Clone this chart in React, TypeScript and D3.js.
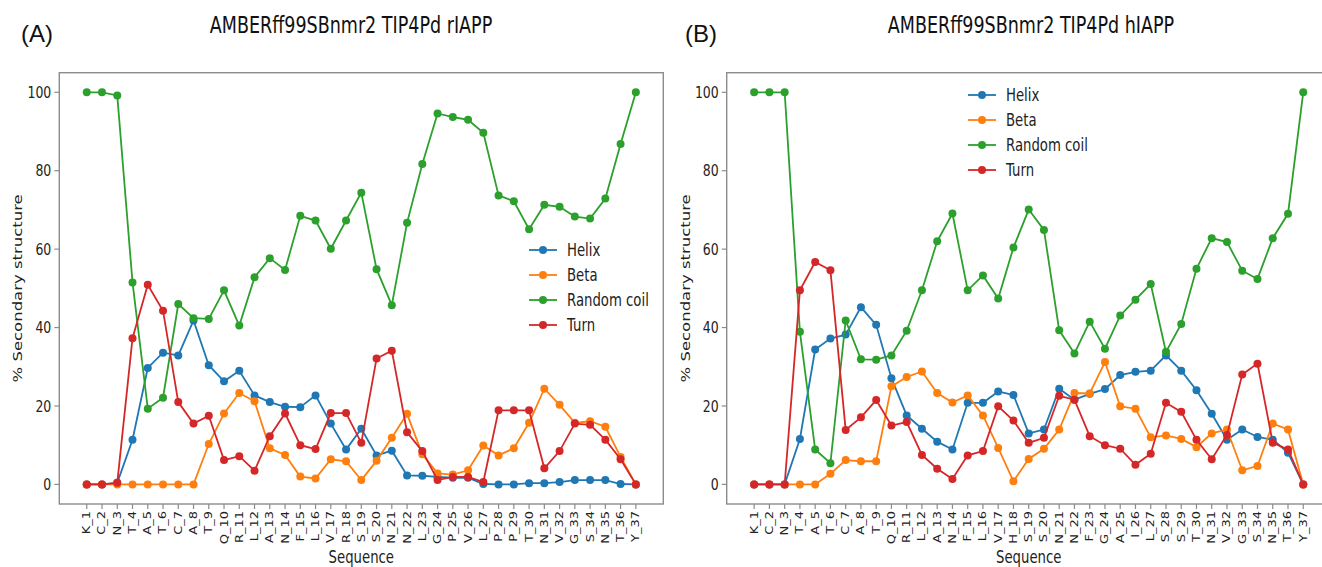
import React, { useEffect, useRef } from 'react';
import * as d3 from 'd3';

const seqA = ['K_1', 'C_2', 'N_3', 'T_4', 'A_5', 'T_6', 'C_7', 'A_8', 'T_9', 'Q_10', 'R_11', 'L_12', 'A_13', 'N_14', 'F_15', 'L_16', 'V_17', 'R_18', 'S_19', 'S_20', 'N_21', 'N_22', 'L_23', 'G_24', 'P_25', 'V_26', 'L_27', 'P_28', 'P_29', 'T_30', 'N_31', 'V_32', 'G_33', 'S_34', 'N_35', 'T_36', 'Y_37'];
const seqB = ['K_1', 'C_2', 'N_3', 'T_4', 'A_5', 'T_6', 'C_7', 'A_8', 'T_9', 'Q_10', 'R_11', 'L_12', 'A_13', 'N_14', 'F_15', 'L_16', 'V_17', 'H_18', 'S_19', 'S_20', 'N_21', 'N_22', 'F_23', 'G_24', 'A_25', 'I_26', 'L_27', 'S_28', 'S_29', 'T_30', 'N_31', 'V_32', 'G_33', 'S_34', 'N_35', 'T_36', 'Y_37'];

// rIAPP
const helixA = [0, 0, 0.4, 11.4, 29.7, 33.6, 32.9, 41.8, 30.4, 26.3, 29.0, 22.7, 21.0, 19.8, 19.7, 22.7, 15.5, 8.9, 14.2, 7.4, 8.6, 2.3, 2.2, 1.9, 1.7, 1.7, 0.1, 0, 0, 0.3, 0.3, 0.6, 1.1, 1.1, 1.1, 0.1, 0];
const betaA = [0, 0, 0, 0, 0, 0, 0, 0, 10.3, 18.1, 23.3, 21.2, 9.2, 7.5, 2.0, 1.5, 6.4, 5.9, 1.1, 6.0, 11.9, 18.0, 7.7, 2.8, 2.5, 3.6, 9.9, 7.4, 9.2, 15.7, 24.4, 20.3, 15.7, 16.1, 14.7, 7.0, 0];
const coilA = [100, 100, 99.2, 51.5, 19.3, 22.1, 46.0, 42.4, 42.2, 49.5, 40.5, 52.8, 57.7, 54.7, 68.5, 67.3, 60.1, 67.3, 74.4, 54.9, 45.7, 66.7, 81.7, 94.6, 93.7, 93.0, 89.7, 73.7, 72.2, 65.1, 71.3, 70.8, 68.3, 67.8, 72.9, 86.8, 100];
const turnA = [0, 0, 0.4, 37.3, 50.9, 44.3, 21.0, 15.5, 17.5, 6.2, 7.2, 3.5, 12.3, 18.1, 10.0, 9.0, 18.2, 18.2, 10.6, 32.1, 34.1, 13.3, 8.5, 1.1, 1.9, 1.9, 0.6, 18.9, 18.9, 18.9, 4.1, 8.5, 15.5, 15.2, 11.4, 6.4, 0];

// hIAPP
const helixB = [0, 0, 0, 11.6, 34.4, 37.2, 38.2, 45.2, 40.7, 27.1, 17.6, 14.2, 10.9, 8.9, 20.8, 20.8, 23.7, 22.8, 13.0, 14.0, 24.4, 21.6, 23.1, 24.3, 27.9, 28.7, 29.0, 32.9, 29.0, 24.0, 18.0, 11.4, 14.0, 12.1, 11.4, 8.1, 0];
const betaB = [0, 0, 0, 0, 0, 2.7, 6.2, 5.9, 5.9, 25.0, 27.4, 28.8, 23.3, 20.9, 22.7, 17.6, 9.3, 0.8, 6.5, 9.1, 14.0, 23.3, 23.2, 31.2, 19.9, 19.3, 12.0, 12.5, 11.6, 9.5, 13.0, 14.0, 3.6, 4.7, 15.5, 14.0, 0];
const coilB = [100, 100, 100, 38.9, 8.9, 5.4, 41.8, 31.9, 31.8, 32.9, 39.2, 49.5, 62.0, 69.1, 49.5, 53.3, 47.4, 60.4, 70.1, 64.9, 39.3, 33.4, 41.5, 34.6, 43.1, 47.1, 51.1, 33.8, 40.9, 55.0, 62.8, 61.8, 54.5, 52.4, 62.8, 69.0, 100];
const turnB = [0, 0, 0, 49.5, 56.7, 54.6, 13.9, 17.1, 21.5, 15.0, 15.9, 7.5, 4.0, 1.4, 7.4, 8.5, 19.9, 16.3, 10.6, 11.9, 22.6, 21.6, 12.3, 10.0, 9.1, 5.0, 7.8, 20.8, 18.5, 11.4, 6.4, 12.6, 28.0, 30.8, 10.6, 8.9, 0];

const seriesNames = ['Helix', 'Beta', 'Random coil', 'Turn'];
const colors = ['#1f77b4', '#ff7f0e', '#2ca02c', '#d62728'];
const yTicks = [0, 20, 40, 60, 80, 100];

const W = 1322;
const H = 567;
const SX = 0.78; // the figure is squeezed horizontally
const FONT = 'DejaVu Sans, sans-serif';

const panels = [
  { tag: '(A)', tagX: 21, title: 'AMBERff99SBnmr2 TIP4Pd rIAPP', titleX: 351, left: 59.3, seq: seqA, series: [helixA, betaA, coilA, turnA], legX: 529, legY: 250 },
  { tag: '(B)', tagX: 685, title: 'AMBERff99SBnmr2 TIP4Pd hIAPP', titleX: 1031, left: 726.7, seq: seqB, series: [helixB, betaB, coilB, turnB], legX: 968, legY: 95 },
];

export default function App() {
  const svgRef = useRef<SVGSVGElement>(null);

  useEffect(() => {
    const svg = d3.select(svgRef.current);
    svg.selectAll('*').remove();
    svg.append('rect').attr('width', W).attr('height', H).attr('fill', '#fff');

    const top = 72.7, bottom = 504, boxW = 604;

    panels.forEach(p => {
      const x = d3.scaleLinear().domain([-1.8, 37.8]).range([p.left, p.left + boxW]);
      const y = d3.scaleLinear().domain([-5, 105]).range([bottom, top]);
      const g = svg.append('g');

      // panel tag + title
      g.append('text').attr('x', p.tagX).attr('y', 42).attr('font-family', 'Liberation Sans, Arial, sans-serif')
        .attr('font-size', 24).attr('fill', '#111').text(p.tag);
      g.append('text').attr('transform', `translate(${p.titleX},33) scale(${SX},1)`).attr('text-anchor', 'middle')
        .attr('font-family', FONT).attr('font-size', 22.5).attr('fill', '#111').text(p.title);

      // series: lines then markers
      p.series.forEach((vals, si) => {
        const line = d3.line<number>().x((_, i) => x(i)).y(d => y(d));
        g.append('path').datum(vals).attr('fill', 'none').attr('stroke', colors[si]).attr('stroke-width', 1.8).attr('d', line);
        g.selectAll(null).data(vals).join('circle')
          .attr('cx', (_, i) => x(i)).attr('cy', d => y(d)).attr('r', 4).attr('fill', colors[si]);
      });

      // frame
      g.append('rect').attr('x', p.left).attr('y', top).attr('width', boxW).attr('height', bottom - top)
        .attr('fill', 'none').attr('stroke', '#8c8c8c').attr('stroke-width', 1.4);

      // y axis
      yTicks.forEach(t => {
        g.append('line').attr('x1', p.left - 5).attr('x2', p.left).attr('y1', y(t)).attr('y2', y(t))
          .attr('stroke', '#8c8c8c').attr('stroke-width', 1.2);
        g.append('text').attr('transform', `translate(${p.left - 8},${y(t)}) scale(${SX},1)`)
          .attr('text-anchor', 'end').attr('dominant-baseline', 'central')
          .attr('font-family', FONT).attr('font-size', 16).attr('fill', '#222').text(t);
      });
      g.append('text').attr('transform', `translate(${p.left - 37},${(top + bottom) / 2}) scale(${SX},1) rotate(-90)`)
        .attr('text-anchor', 'middle').attr('font-family', FONT).attr('font-size', 16.5).attr('fill', '#222')
        .text('% Secondary structure');

      // x axis
      p.seq.forEach((s, i) => {
        g.append('line').attr('x1', x(i)).attr('x2', x(i)).attr('y1', bottom).attr('y2', bottom + 5)
          .attr('stroke', '#8c8c8c').attr('stroke-width', 1.2);
        g.append('text').attr('transform', `translate(${x(i)},${bottom + 7}) scale(${SX},1) rotate(-90)`)
          .attr('text-anchor', 'end').attr('dominant-baseline', 'central')
          .attr('font-family', FONT).attr('font-size', 13).attr('fill', '#222').text(s);
      });
      g.append('text').attr('transform', `translate(${(p.left + p.left + boxW) / 2},563) scale(${SX},1)`)
        .attr('text-anchor', 'middle').attr('font-family', FONT).attr('font-size', 17).attr('fill', '#222').text('Sequence');

      // legend
      seriesNames.forEach((name, si) => {
        const ly = p.legY + si * 25;
        g.append('line').attr('x1', p.legX).attr('x2', p.legX + 28).attr('y1', ly).attr('y2', ly)
          .attr('stroke', colors[si]).attr('stroke-width', 1.8);
        g.append('circle').attr('cx', p.legX + 14).attr('cy', ly).attr('r', 4).attr('fill', colors[si]);
        g.append('text').attr('transform', `translate(${p.legX + 38},${ly}) scale(${SX},1)`)
          .attr('dominant-baseline', 'central').attr('font-family', FONT).attr('font-size', 17).attr('fill', '#222').text(name);
      });
    });
  }, []);

  return (
    <svg ref={svgRef} width={W} height={H} style={{ position: 'absolute', left: 0, top: 0, display: 'block' }} />
  );
}
